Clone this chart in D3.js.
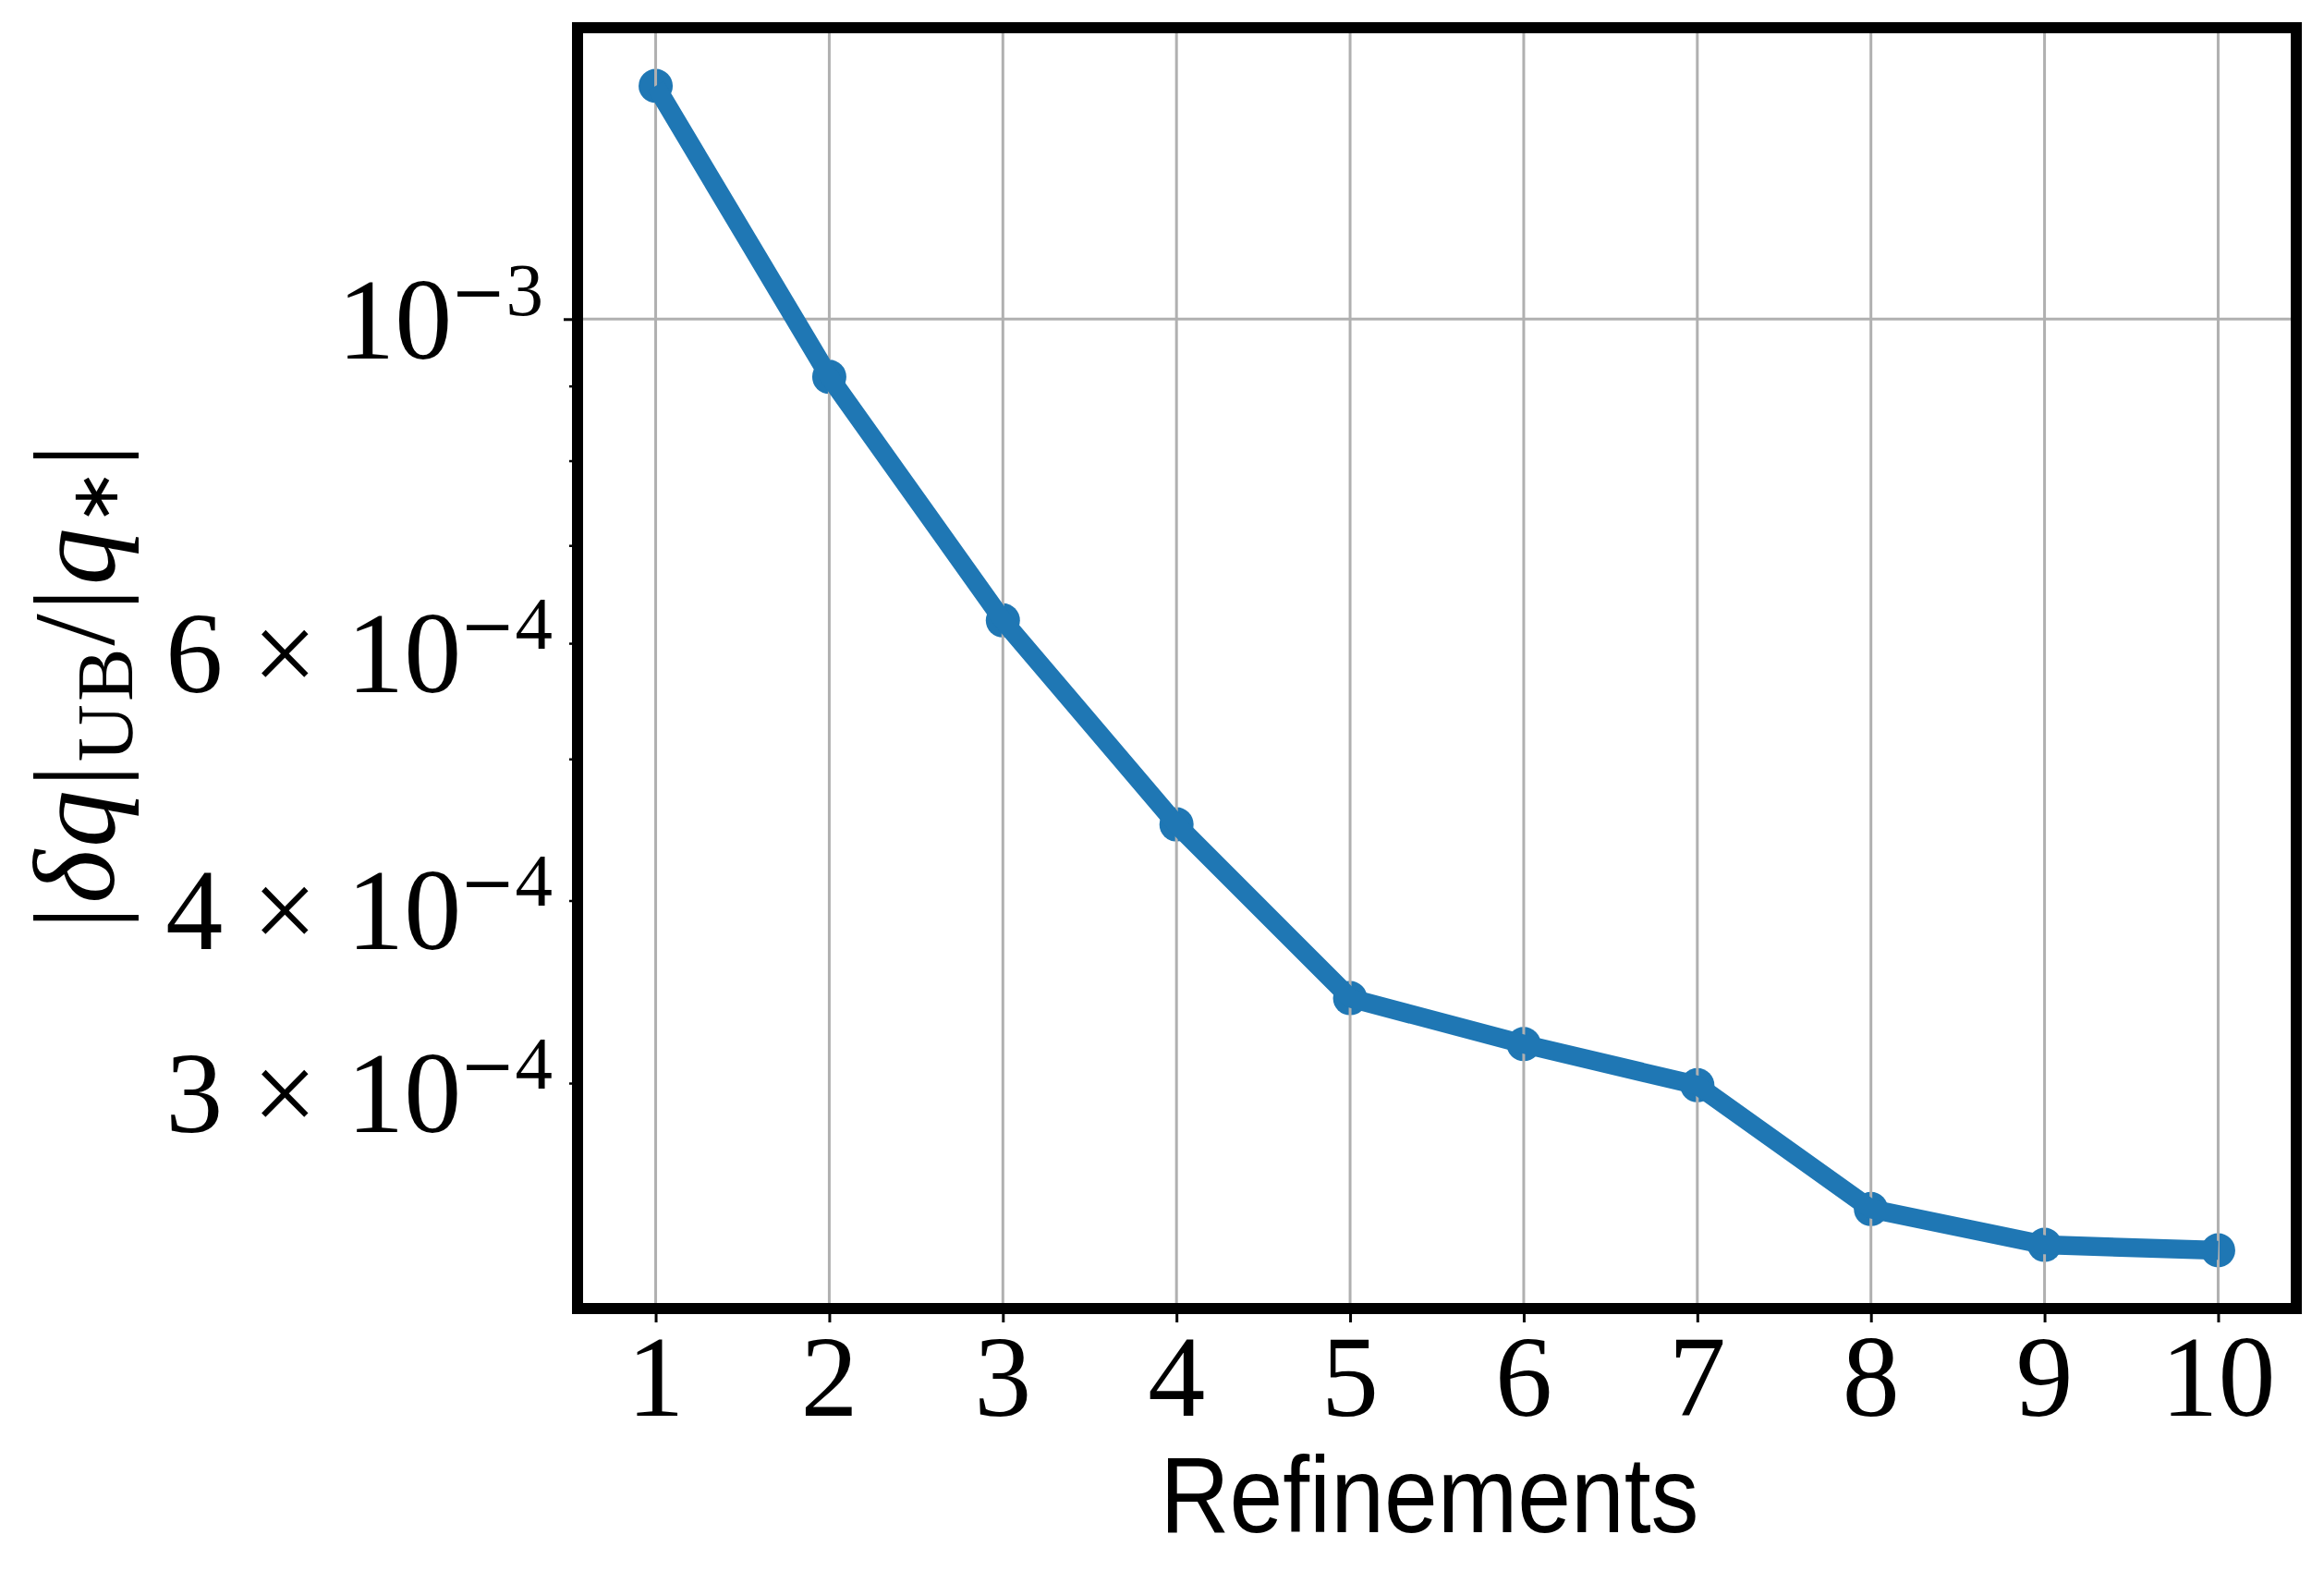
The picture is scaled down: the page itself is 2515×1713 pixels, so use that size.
<!DOCTYPE html>
<html lang="en">
<head>
<meta charset="UTF-8">
<title>Refinements</title>
<style>
  body { margin: 0; background: #fff; }
  text { fill: #000; }
</style>
</head>
<body>
<script src="https://d3js.org/d3.v7.min.js"></script>
<script>
  // data
  var refinements = [1, 2, 3, 4, 5, 6, 7, 8, 9, 10];
  var relErrUB = [1.444e-3, 9.13e-4, 6.22e-4, 4.51e-4, 3.43e-4, 3.19e-4, 2.99e-4, 2.46e-4, 2.325e-4, 2.305e-4];

  var yMajorTicks = [1e-3];
  var yMinorTicks = [3e-4, 4e-4, 5e-4, 6e-4, 7e-4, 8e-4, 9e-4];
  var yLabelValues = [1e-3, 6e-4, 4e-4, 3e-4];
  var yLabelMantissa = ["", "6", "4", "3"];
  var yLabelExponent = ["3", "4", "4", "4"];

  var W = 2515, H = 1713;
  var plotL = 625, plotR = 2485, plotT = 30, plotB = 1416;
  var blue = "#1f77b4";

  var svg = d3.select("body").append("svg").attr("width", W).attr("height", H);

  // matplotlib-like 5% margins
  var xPad = (d3.max(refinements) - d3.min(refinements)) * 0.05;
  var x = d3.scaleLinear()
    .domain([d3.min(refinements) - xPad, d3.max(refinements) + xPad])
    .range([plotL, plotR]);

  var lmin = Math.log10(d3.min(relErrUB)), lmax = Math.log10(d3.max(relErrUB));
  var lPad = (lmax - lmin) * 0.05;
  var y = d3.scaleLog()
    .domain([Math.pow(10, lmin - lPad), Math.pow(10, lmax + lPad)])
    .range([plotB, plotT]);

  var pts = refinements.map(function (r, i) { return [r, relErrUB[i]]; });

  // markers sit under the grid in the original
  svg.append("g").selectAll("circle").data(pts).enter().append("circle")
    .attr("cx", function (d) { return x(d[0]); })
    .attr("cy", function (d) { return y(d[1]); })
    .attr("r", 18.5)
    .attr("fill", blue);

  // grid
  var grid = svg.append("g").attr("stroke", "#b0b0b0").attr("stroke-width", 3);
  grid.selectAll(".gx").data(refinements).enter().append("line")
    .attr("x1", function (d) { return x(d); }).attr("x2", function (d) { return x(d); })
    .attr("y1", plotT).attr("y2", plotB);
  grid.selectAll(".gy").data(yMajorTicks).enter().append("line")
    .attr("x1", plotL).attr("x2", plotR)
    .attr("y1", function (d) { return y(d); }).attr("y2", function (d) { return y(d); });

  // line
  var line = d3.line()
    .x(function (d) { return x(d[0]); })
    .y(function (d) { return y(d[1]); });
  svg.append("path").datum(pts)
    .attr("d", line)
    .attr("fill", "none")
    .attr("stroke", blue)
    .attr("stroke-width", 20.5)
    .attr("stroke-linejoin", "round");

  // axes ticks
  var gx = svg.append("g").attr("transform", "translate(0," + plotB + ")")
    .call(d3.axisBottom(x).tickValues(refinements).tickSize(15).tickFormat(""));
  gx.select(".domain").remove();
  gx.selectAll("line").attr("stroke-width", 3);

  var gyMaj = svg.append("g").attr("transform", "translate(" + plotL + ",0)")
    .call(d3.axisLeft(y).tickValues(yMajorTicks).tickSize(15).tickFormat(""));
  gyMaj.select(".domain").remove();
  gyMaj.selectAll("line").attr("stroke-width", 3);

  var gyMin = svg.append("g").attr("transform", "translate(" + plotL + ",0)")
    .call(d3.axisLeft(y).tickValues(yMinorTicks).tickSize(9).tickFormat(""));
  gyMin.select(".domain").remove();
  gyMin.selectAll("line").attr("stroke-width", 2.5);

  // x tick labels
  svg.append("g").selectAll("text").data(refinements).enter().append("text")
    .attr("x", function (d) { return x(d); })
    .attr("y", 1532)
    .attr("text-anchor", "middle")
    .style("font-family", "'Liberation Serif', serif")
    .style("font-size", "124px")
    .text(function (d) { return d; });

  // y tick labels
  yLabelValues.forEach(function (v, i) {
    var t = svg.append("text")
      .attr("x", yLabelMantissa[i] ? 598 : 588)
      .attr("y", y(v) + (yLabelMantissa[i] ? 53 : 43))
      .attr("text-anchor", "end")
      .style("font-family", "'Liberation Serif', serif")
      .style("font-size", "124px");
    if (yLabelMantissa[i]) {
      t.append("tspan").text(yLabelMantissa[i]);
      t.append("tspan").attr("dx", 32).text("\u00d7");
      t.append("tspan").attr("dx", 32).text("10");
    } else {
      t.append("tspan").text("10");
    }
    t.append("tspan").attr("dy", -47).attr("dx", -2)
      .style("font-size", "72px").style("font-family", "'DejaVu Serif', serif")
      .text("\u2212");
    t.append("tspan").attr("dx", 0).style("font-size", "81px").text(yLabelExponent[i]);
  });

  // axis labels
  svg.append("text")
    .attr("x", 1547).attr("y", 1658)
    .attr("text-anchor", "middle")
    .attr("textLength", 583).attr("lengthAdjust", "spacingAndGlyphs")
    .style("font-family", "'Liberation Sans', sans-serif")
    .style("font-size", "116px")
    .text("Refinements");

  var yl = svg.append("text")
    .attr("transform", "translate(123,743) rotate(-90)")
    .attr("text-anchor", "middle")
    .attr("textLength", 525).attr("lengthAdjust", "spacing")
    .style("font-family", "'Liberation Serif', serif")
    .style("font-size", "124px");
  yl.append("tspan").text("|");
  yl.append("tspan").style("font-style", "italic").text("\u03b4q");
  yl.append("tspan").text("|");
  yl.append("tspan").attr("dy", 20).style("font-size", "86px").text("UB");
  yl.append("tspan").attr("dy", -20).text("/|");
  yl.append("tspan").style("font-style", "italic").text("q");
  yl.append("tspan").attr("dy", 4).style("font-size", "72px").text("\u2217");
  yl.append("tspan").attr("dy", -4).text("|");

  // frame
  svg.append("rect")
    .attr("x", plotL).attr("y", plotT)
    .attr("width", plotR - plotL).attr("height", plotB - plotT)
    .attr("fill", "none")
    .attr("stroke", "#000")
    .attr("stroke-width", 12);
</script>
</body>
</html>
